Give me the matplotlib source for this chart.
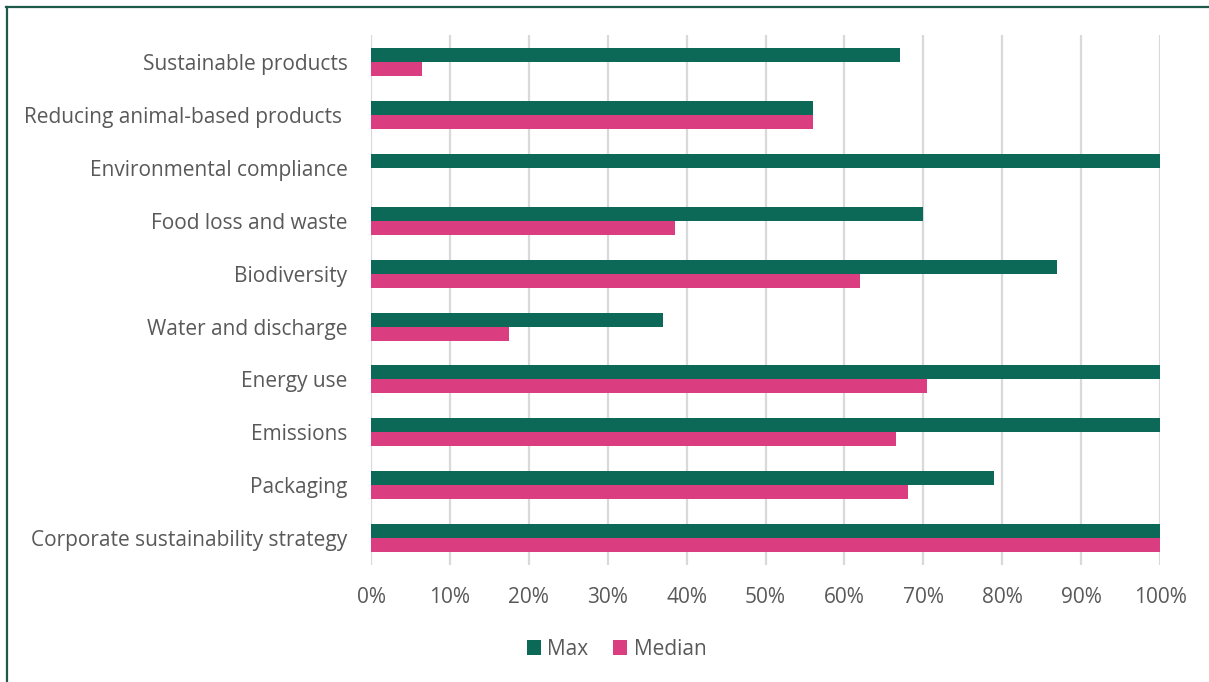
import numpy as np
import matplotlib.pyplot as plt
from matplotlib.lines import Line2D
from matplotlib.ticker import PercentFormatter

plt.rcParams['font.family'] = ['Open Sans', 'DejaVu Sans']

categories = [
    'Sustainable products',
    'Reducing animal-based products ',
    'Environmental compliance',
    'Food loss and waste',
    'Biodiversity',
    'Water and discharge',
    'Energy use',
    'Emissions',
    'Packaging',
    'Corporate sustainability strategy',
]
max_vals = [67, 56, 100, 70, 87, 37, 100, 100, 79, 100]
median_vals = [6.5, 56, 0, 38.5, 62, 17.5, 70.5, 66.5, 68, 100]

green = '#0C6957'
pink = '#DA3E80'
text_col = '#595959'

fig = plt.figure(figsize=(12.09, 6.82), dpi=100)
ax = fig.add_axes([0.3069, 0.172, 0.6526, 0.776])

y = np.arange(len(categories))
h = 0.265
ax.barh(y - h / 2, max_vals, height=h, color=green, label='Max', zorder=3)
ax.barh(y + h / 2, median_vals, height=h, color=pink, label='Median', zorder=3)

ax.set_ylim(len(categories) - 0.5, -0.5)
ax.set_xlim(0, 100)
ax.set_xticks(np.arange(0, 101, 10))
ax.xaxis.set_major_formatter(PercentFormatter(decimals=0))
ax.set_yticks(y)
ax.set_yticklabels(categories)

ax.grid(axis='x', color='#D9D9D9', linewidth=1.6, zorder=0)
for s in ax.spines.values():
    s.set_visible(False)
ax.tick_params(axis='both', length=0, labelsize=15, labelcolor=text_col)
ax.tick_params(axis='y', pad=17)
ax.tick_params(axis='x', pad=16)

leg = fig.legend(loc='center', bbox_to_anchor=(0.51, 0.048), ncol=2, frameon=False,
                 fontsize=15, handlelength=0.68, handleheight=0.68,
                 handletextpad=0.3, columnspacing=1.2)
for t in leg.get_texts():
    t.set_color(text_col)

# frame lines along the top and left edge
fig.add_artist(Line2D([0.005, 1.0], [0.9897, 0.9897], color='#1E5A4A', linewidth=1.6))
fig.add_artist(Line2D([0.0058, 0.0058], [0.0, 0.99], color='#1E5A4A', linewidth=1.6))

fig.savefig('out.png', dpi=100)
